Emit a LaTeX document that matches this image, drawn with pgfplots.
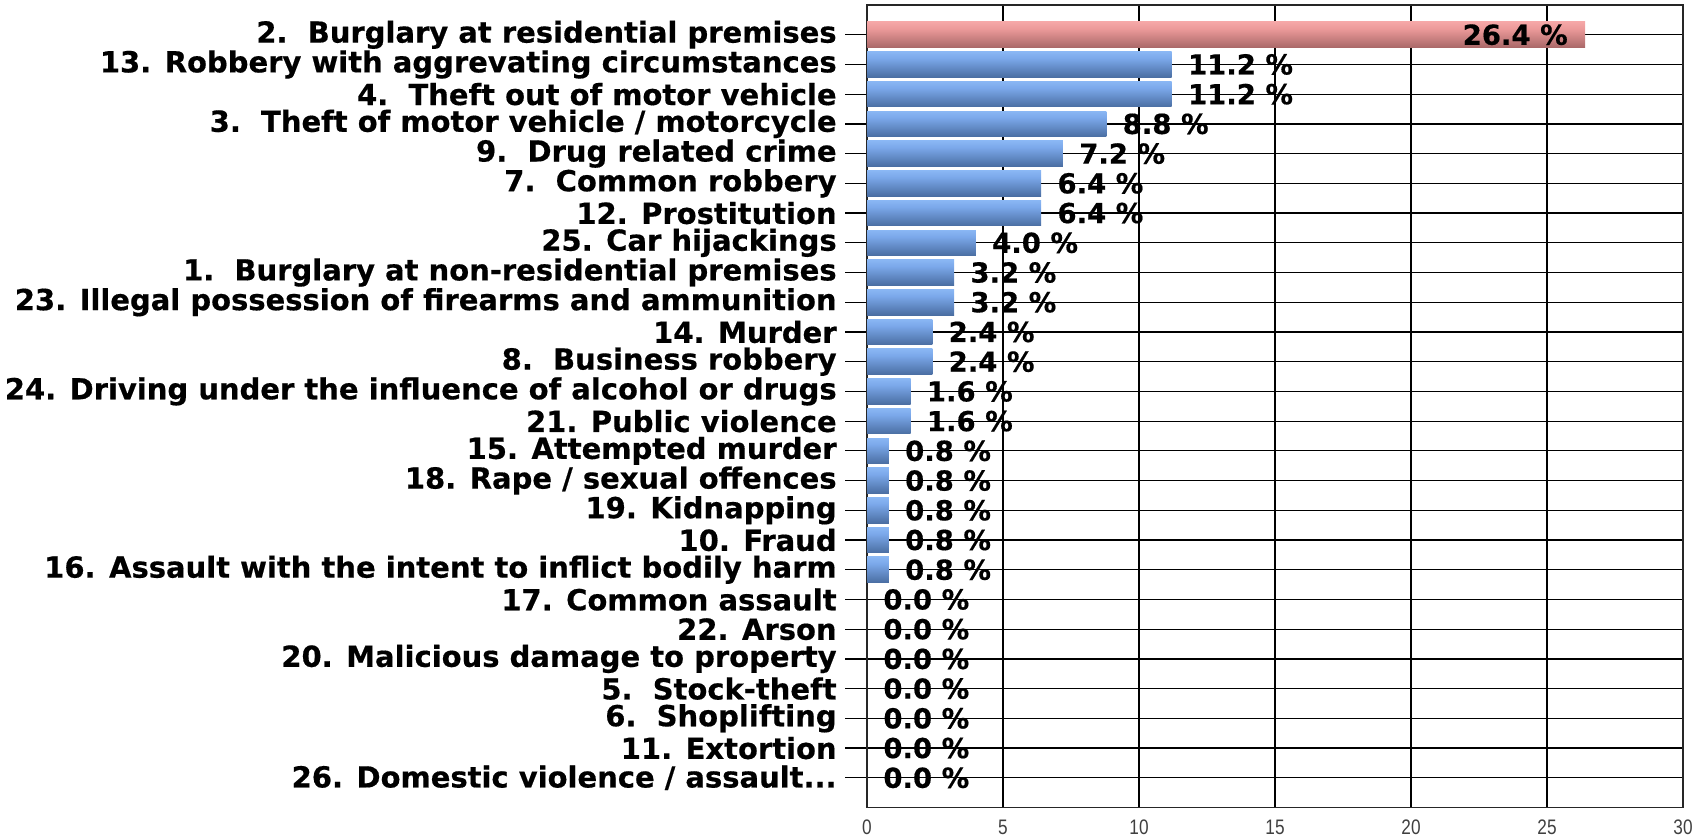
\documentclass[border=0pt]{standalone}
\usepackage{pgfplots}
\pgfplotsset{compat=1.18}
\usepackage{fontspec}
\setmainfont{DejaVu Sans}
\newfontfamily\tickfont{Liberation Sans}
\newfontfamily\heavy{DejaVu Sans Bold}[FakeBold=0.5]
\definecolor{bA}{HTML}{2C466C}
\definecolor{bB}{HTML}{46699C}
\definecolor{bC}{HTML}{7BA8EA}
\definecolor{bD}{HTML}{8DBAF6}
\definecolor{bE}{HTML}{6B99E0}
\definecolor{rA}{HTML}{704040}
\definecolor{rB}{HTML}{A46464}
\definecolor{rC}{HTML}{EC9A9A}
\definecolor{rD}{HTML}{F7AAAA}
\definecolor{rE}{HTML}{F08E8E}
\pgfdeclareverticalshading{bluebar}{100bp}{color(0bp)=(bA); color(22bp)=(bB); color(62bp)=(bC); color(78bp)=(bD); color(100bp)=(bE)}
\pgfdeclareverticalshading{redbar}{100bp}{color(0bp)=(rA); color(22bp)=(rB); color(62bp)=(rC); color(78bp)=(rD); color(100bp)=(rE)}

\begin{document}
\begin{tikzpicture}
\begin{axis}[
  at={(433.5pt,-403.75pt)}, anchor=south west,
  scale only axis, width=408pt, height=401.25pt,
  xmin=0, xmax=30, ymin=0, ymax=27, y dir=reverse,
  xtick={0,5,10,15,20,25,30},
  ytick={1,2,3,4,5,6,7,8,9,10,11,12,13,14,15,16,17,18,19,20,21,22,23,24,25,26},
  yticklabels={
    {2.\ \ Burglary at residential premises},
    {13. Robbery with aggrevating circumstances},
    {4.\ \ Theft out of motor vehicle},
    {3.\ \ Theft of motor vehicle / motorcycle},
    {9.\ \ Drug related crime},
    {7.\ \ Common robbery},
    {12. Prostitution},
    {25. Car hijackings},
    {1.\ \ Burglary at non-residential premises},
    {23. Illegal possession of firearms and ammunition},
    {14. Murder},
    {8.\ \ Business robbery},
    {24. Driving under the influence of alcohol or drugs},
    {21. Public violence},
    {15. Attempted murder},
    {18. Rape / sexual offences},
    {19. Kidnapping},
    {10. Fraud},
    {16. Assault with the intent to inflict bodily harm},
    {17. Common assault},
    {22. Arson},
    {20. Malicious damage to property},
    {5.\ \ Stock-theft},
    {6.\ \ Shoplifting},
    {11. Extortion},
    {26. Domestic violence / assault{.}{.}{.}}},
  xmajorgrids, ymajorgrids,
  major grid style={black, line width=0.6pt},
  axis line style={black!85, line width=0.8pt},
  tick align=outside, tick pos=left,
  major tick length=11pt,
  ytick style={black, line width=0.6pt},
  xtick style={draw=none},
  yticklabel style={inner sep=0pt, font=\heavy\fontsize{14.5pt}{17pt}\selectfont, xshift=-4pt},
  xticklabel style={inner sep=0pt, font=\tickfont\fontsize{10.5pt}{12pt}\selectfont, xscale=0.82, text=black!75, yshift=5pt},
  /pgf/number format/assume math mode=true,
  xbar, bar width=12.8pt, bar shift=0pt,
  point meta=x,
  nodes near coords={\pgfmathprintnumber[fixed,fixed zerofill,precision=1]{\pgfplotspointmeta} \%},
  every node near coord/.append style={font=\heavy\fontsize{13.75pt}{16pt}\selectfont, text=black, inner sep=0pt},
  clip=false,
  redb/.style={draw=none, shade, shading=redbar, nodes near coords style={anchor=east, xshift=-8.5pt}},
  blueb/.style={draw=none, shade, shading=bluebar, nodes near coords style={anchor=west, xshift=8pt}},
]
\addplot[redb] coordinates {(26.4,1)};
\addplot[blueb] coordinates {(11.2,2)};
\addplot[blueb] coordinates {(11.2,3)};
\addplot[blueb] coordinates {(8.8,4)};
\addplot[blueb] coordinates {(7.2,5)};
\addplot[blueb] coordinates {(6.4,6)};
\addplot[blueb] coordinates {(6.4,7)};
\addplot[blueb] coordinates {(4.0,8)};
\addplot[blueb] coordinates {(3.2,9)};
\addplot[blueb] coordinates {(3.2,10)};
\addplot[blueb] coordinates {(2.4,11)};
\addplot[blueb] coordinates {(2.4,12)};
\addplot[blueb] coordinates {(1.6,13)};
\addplot[blueb] coordinates {(1.6,14)};
\addplot[blueb] coordinates {(0.8,15)};
\addplot[blueb] coordinates {(0.8,16)};
\addplot[blueb] coordinates {(0.8,17)};
\addplot[blueb] coordinates {(0.8,18)};
\addplot[blueb] coordinates {(0.8,19)};
\addplot[blueb] coordinates {(0.0,20)};
\addplot[blueb] coordinates {(0.0,21)};
\addplot[blueb] coordinates {(0.0,22)};
\addplot[blueb] coordinates {(0.0,23)};
\addplot[blueb] coordinates {(0.0,24)};
\addplot[blueb] coordinates {(0.0,25)};
\addplot[blueb] coordinates {(0.0,26)};
\end{axis}
\pgfresetboundingbox
\path[use as bounding box] (0,0) rectangle (853.5pt,-418.5pt);
\end{tikzpicture}
\end{document}
